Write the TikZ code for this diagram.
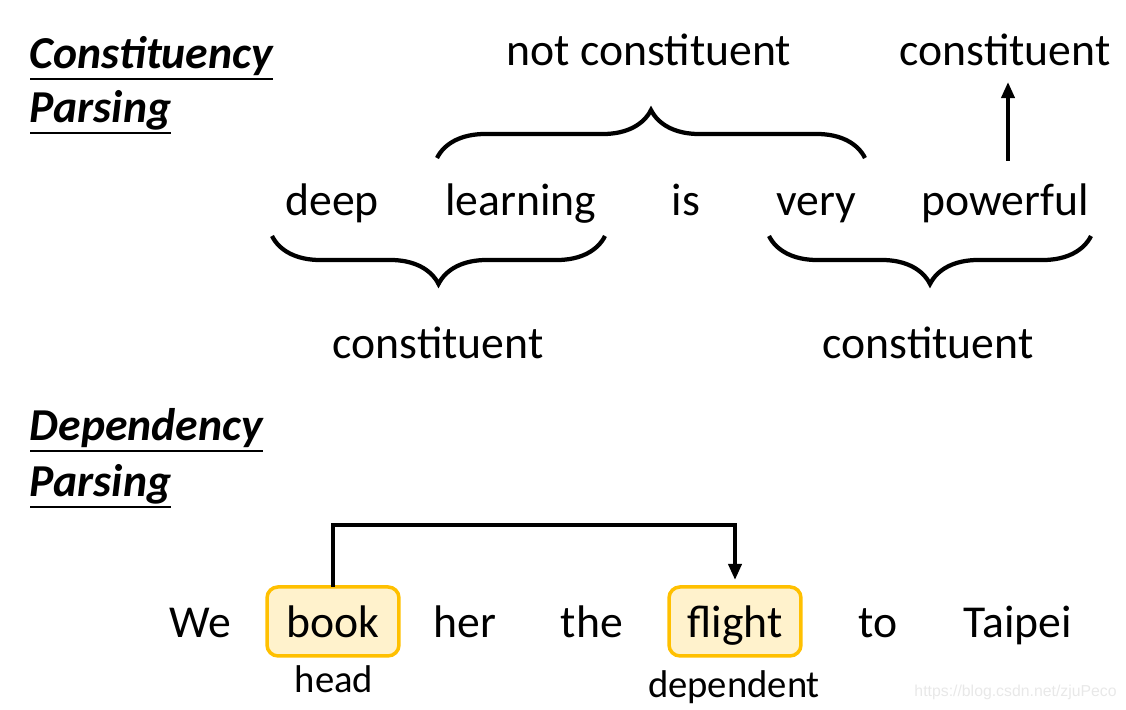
\documentclass[tikz,border=0pt]{standalone}
\usepackage{fontspec}
\setmainfont{Carlito}
\newfontfamily\wmfont{Liberation Sans}
\usetikzlibrary{arrows.meta, positioning, decorations.pathreplacing}
\definecolor{hlborder}{RGB}{255,192,0}
\definecolor{hlfill}{RGB}{255,242,204}
\tikzstyle{word} = [inner sep=0pt, outer sep=0pt, anchor=base, text height=19.5pt, text depth=5.7pt, font=\fontsize{26}{31}\selectfont]
\tikzstyle{small} = [inner sep=0pt, outer sep=0pt, anchor=base, font=\fontsize{22}{26}\selectfont]
\tikzstyle{title} = [inner sep=0pt, outer sep=0pt, anchor=base west, text depth=6.2pt, font=\fontsize{26}{31}\selectfont\bfseries\itshape]
\tikzstyle{hl} = [word, text height=23.4pt, rectangle, rounded corners=0.22cm, minimum width=2.64cm, minimum height=1.38cm, draw=hlborder, fill=hlfill, line width=0.07cm]
\tikzstyle{arrow} = [line width=0.075cm,->,>={Stealth[inset=0pt, length=0.32cm, width=0.26cm]}]
\tikzstyle{brace} = [line width=0.085cm, decorate, decoration={brace, amplitude=0.96cm}]

\begin{document}
\begin{tikzpicture}[x=0.02cm, y=-0.02cm]
    \useasboundingbox (0,0) rectangle (1126,710);
    % titles
    \node (cp1) [title] at (30,68) {Constituency};
    \node (cp2) [title] at (30,122) {Parsing};
    \node (dp1) [title] at (30,440) {Dependency};
    \node (dp2) [title] at (30,496) {Parsing};
    \foreach \t in {cp1,cp2,dp1,dp2}
        \draw [line width=0.035cm] (\t.south west) -- (\t.south east);

    % constituency
    \node (deep) [word] at (332,215) {deep};
    \node (learning) [word] at (521,215) {learning};
    \node (is) [word] at (686,215) {is};
    \node (very) [word] at (816,215) {very};
    \node (powerful) [word] at (1005,215) {powerful};
    \draw [brace] (437,158) -- (865,158);
    \draw [brace] (605,236) -- (272,236);
    \draw [brace] (1091,236) -- (769,236);
    \node (nc) [word] at (649,65) {not constituent};
    \node (c1) [word] at (1005,65) {constituent};
    \node (c2) [word] at (438,358) {constituent};
    \node (c3) [word] at (928,358) {constituent};
    \draw [arrow, shorten <=0.4cm, shorten >=0.14cm] ([xshift=0.06cm]powerful.north) -- ([xshift=0.06cm]c1.south);

    % dependency
    \node (we) [word] at (200,637) {We};
    \node (book) [hl] at (333,637) {book};
    \node (her) [word] at (465,637) {her};
    \node (the) [word] at (592,637) {the};
    \node (flight) [hl] at (735,637) {flight};
    \node (to) [word] at (878,637) {to};
    \node (taipei) [word] at (1018,637) {Taipei};
    \node (head) [small] at (334,692) {head};
    \node (dep) [small] at (734,697) {dependent};
    \draw [arrow, shorten >=0.14cm] (book.north) -- ++(0,-62) -| (flight.north);

    \node (wm) [anchor=base east, inner sep=0pt, font=\wmfont\fontsize{9}{11}\selectfont, text=black!9] at (1117,696) {https://blog.csdn.net/zjuPeco};
\end{tikzpicture}
\end{document}
